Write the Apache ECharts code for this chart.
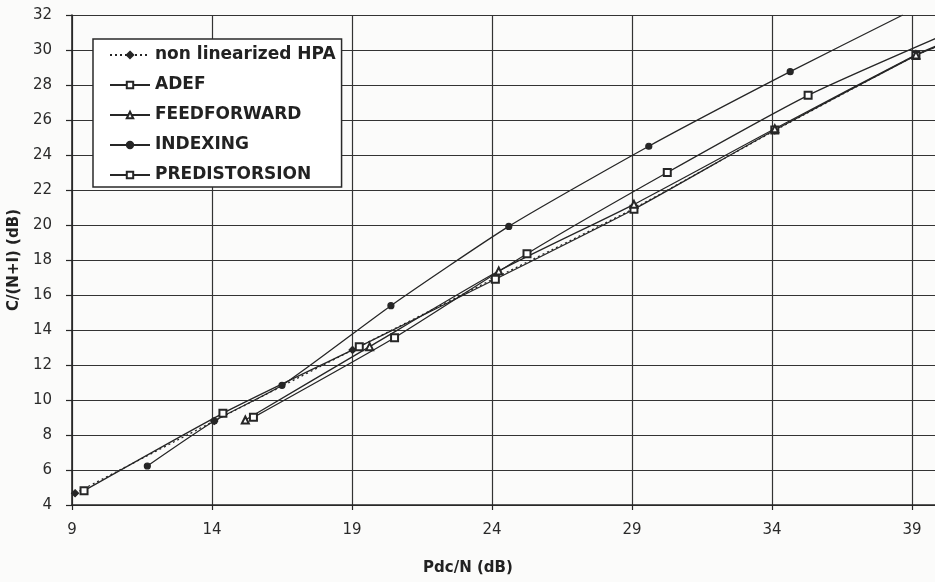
<!DOCTYPE html>
<html>
<head>
<meta charset="utf-8">
<script src="https://cdn.jsdelivr.net/npm/echarts@6/dist/echarts.min.js"></script>
<style>
html,body{margin:0;padding:0;background:#fbfbfa;}
#chart{width:935px;height:582px;}
</style>
</head>
<body>
<div id="chart"></div>
<script>
// Axis settings (tick labels run 9,14,...,39 and 4,6,...,32)
const xTickStart = 9, xTickStep = 5, xEnd = 40;
const yTickStart = 4, yTickStep = 2, yEnd = 32;
const xTitle = 'Pdc/N (dB)';
const yTitle = 'C/(N+I) (dB)';

const seriesNames = ['non linearized HPA', 'ADEF', 'FEEDFORWARD', 'INDEXING', 'PREDISTORSION'];

// Values
const hpaX  = [9.11, 14.08, 19.02, 24.09, 29.07, 34.10, 39.14];
const hpaY  = [4.67, 8.80, 12.86, 16.95, 20.95, 25.40, 29.70];
const adefX = [9.43, 14.39, 19.26, 24.12, 29.07, 34.10, 39.14];
const adefY = [4.82, 9.24, 13.05, 16.90, 20.90, 25.43, 29.69];
const feedX = [15.19, 19.63, 24.24, 29.07, 34.10, 39.14];
const feedY = [8.86, 13.05, 17.37, 21.18, 25.50, 29.72];
const indxX = [11.69, 14.08, 16.50, 20.39, 24.60, 29.60, 34.65];
const indxY = [6.23, 8.80, 10.84, 15.39, 19.92, 24.50, 28.76];
const predX = [15.48, 20.52, 25.25, 30.26, 35.29];
const predY = [9.01, 13.56, 18.36, 23.00, 27.41];

// Where each curve leaves the frame (no marker there)
const hpaTail  = [39.9, 30.2];
const adefTail = [39.9, 30.2];
const feedTail = [39.9, 30.25];
const indxTail = [38.67, 32.0];
const predTail = [39.9, 30.7];

function build(xs, ys, tail) {
  const d = xs.map((x, i) => [x, ys[i]]);
  if (tail) d.push({ value: tail, symbol: 'none' });
  return d;
}

const ink = '#262626';
const font = 'DejaVu Sans';

function lineSeries(name, data, symbol, size, dashed) {
  return {
    name: name,
    type: 'line',
    data: data,
    smooth: 0.2,
    symbol: symbol,
    symbolSize: size,
    showAllSymbol: true,
    clip: true,
    lineStyle: { color: ink, width: 1.3, type: dashed ? [2, 3] : 'solid' },
    itemStyle: { color: ink, borderColor: ink, borderWidth: 1.2 },
    emphasis: { disabled: true },
    animation: false
  };
}

const chart = echarts.init(document.getElementById('chart'), null, { renderer: 'canvas' });
chart.setOption({
  backgroundColor: '#fbfbfa',
  animation: false,
  grid: { left: 72, top: 15, right: -5, bottom: 77, containLabel: false, outerBoundsMode: 'none' },
  legend: {
    show: true,
    orient: 'vertical',
    left: 93,
    top: 39,
    data: seriesNames,
    itemWidth: 40,
    itemHeight: 8,
    itemGap: 12,
    padding: [7, 6, 3, 16],
    backgroundColor: '#ffffff',
    borderColor: '#2a2a2a',
    borderWidth: 1.5,
    borderRadius: 0,
    textStyle: { fontFamily: font, fontWeight: 'bold', fontSize: 17, color: '#222', lineHeight: 18 },
    selectedMode: false
  },
  xAxis: {
    type: 'value',
    min: xTickStart,
    max: xEnd,
    interval: xTickStep,
    name: xTitle,
    nameLocation: 'middle',
    nameGap: 56,
    nameTextStyle: { fontFamily: font, fontWeight: 'bold', fontSize: 15, color: '#222', padding: [0, 76, 0, 0] },
    axisLine: { show: true, onZero: false, lineStyle: { color: ink, width: 1.6 } },
    axisTick: { show: true, length: 5, lineStyle: { color: ink, width: 1.2 } },
    axisLabel: { fontFamily: font, fontSize: 15, color: '#2a2a2a', margin: 18, showMaxLabel: false },
    splitLine: { show: true, lineStyle: { color: '#333', width: 1.2 } }
  },
  yAxis: {
    type: 'value',
    min: yTickStart,
    max: yEnd,
    interval: yTickStep,
    name: yTitle,
    nameLocation: 'middle',
    nameRotate: 90,
    nameGap: 46,
    nameTextStyle: { fontFamily: font, fontWeight: 'bold', fontSize: 15, color: '#222' },
    axisLine: { show: true, onZero: false, lineStyle: { color: ink, width: 1.6 } },
    axisTick: { show: true, length: 6, lineStyle: { color: ink, width: 1.2 } },
    axisLabel: { fontFamily: font, fontSize: 15, color: '#2a2a2a', margin: 20 },
    splitLine: { show: true, lineStyle: { color: '#333', width: 1.2 } }
  },
  series: [
    lineSeries(seriesNames[0], build(hpaX, hpaY, hpaTail), 'diamond', 7, true),
    lineSeries(seriesNames[1], build(adefX, adefY, adefTail), 'emptyRect', 7, false),
    lineSeries(seriesNames[2], build(feedX, feedY, feedTail), 'emptyTriangle', 7, false),
    lineSeries(seriesNames[3], build(indxX, indxY, indxTail), 'circle', 6, false),
    lineSeries(seriesNames[4], build(predX, predY, predTail), 'emptyRect', 7, false)
  ]
});
</script>
</body>
</html>
